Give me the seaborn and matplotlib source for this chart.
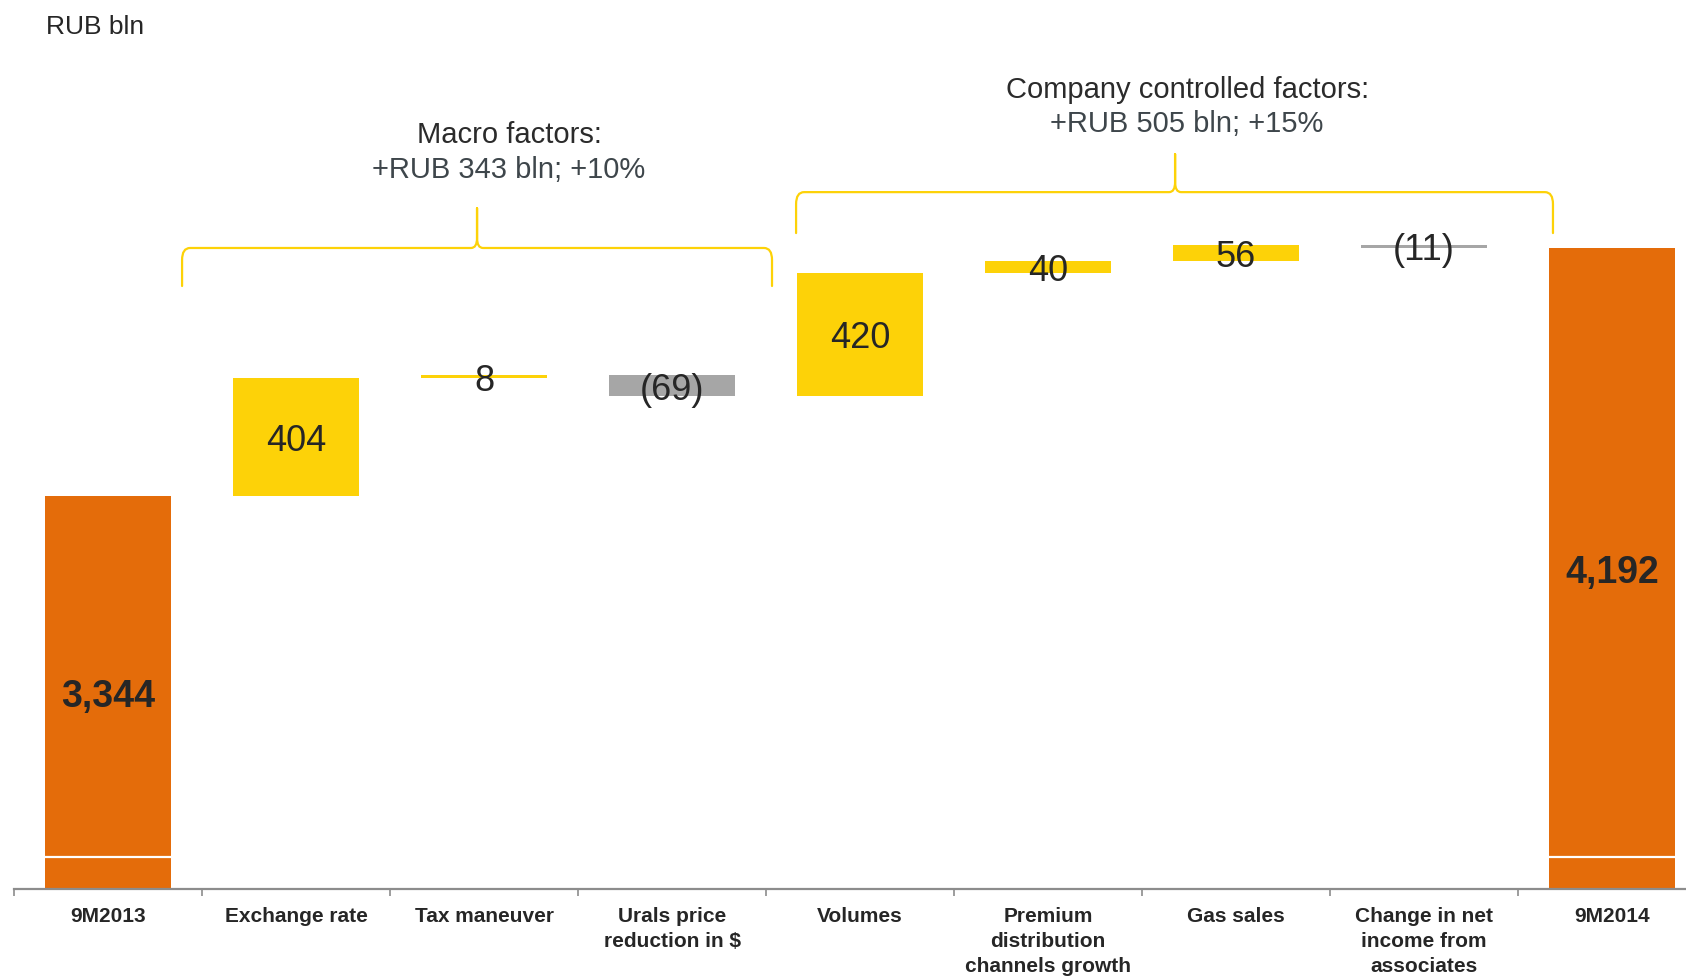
import numpy as np
import matplotlib
matplotlib.use("Agg")
import matplotlib.pyplot as plt
from matplotlib.path import Path
from matplotlib.patches import PathPatch
from matplotlib import transforms
import seaborn as sns

# ---------------- data ----------------
categories = ["9M2013", "Exchange rate", "Tax maneuver", "Urals price\nreduction in $",
              "Volumes", "Premium\ndistribution\nchannels growth", "Gas sales",
              "Change in net\nincome from\nassociates", "9M2014"]
values = [3344, 404, 8, -69, 420, 40, 56, -11, 4192]
kinds = ["total", "up", "up", "down", "up", "up", "up", "down", "total"]
value_labels = ["3,344", "404", "8", "(69)", "420", "40", "56", "(11)", "4,192"]

group_titles = ["Macro factors:", "Company controlled factors:"]
group_subtitles = ["+RUB 343 bln; +10%", "+RUB 505 bln; +15%"]
unit_label = "RUB bln"

# ---------------- styling / layout ----------------
COLORS = {"total": "#E46C0A", "up": "#FDD208", "down": "#A6A6A6"}
TEXT = "#262626"
AXIS_GREY = "#8C8C8C"
Y_MIN, Y_MAX = 2000, 5040
AXIS_BREAK = 2109
BAR_WIDTH = 0.665

# brace layout (data units): x_start, x_peak, x_end, y_tip, y_line, y_peak
braces = [(0.394, 1.963, 3.532, 4062, 4192, 4328),
          (3.660, 5.676, 7.686, 4243, 4383, 4513)]
group_text_x = [2.133, 5.74]
group_title_y = [4578, 4733]
group_sub_y = [4458, 4617]

# ---------------- derived waterfall geometry ----------------
bottoms, heights = [], []
running = 0
for v, k in zip(values, kinds):
    if k == "total":
        bottoms.append(0)
        heights.append(v)
        running = v
    else:
        lo = min(running, running + v)
        bottoms.append(lo)
        heights.append(abs(v))
        running += v
bottoms = np.array(bottoms, dtype=float)
heights = np.array(heights, dtype=float)

# ---------------- figure ----------------
sns.set_theme(style="white")
plt.rcParams["font.family"] = ["Liberation Sans", "DejaVu Sans"]

fig = plt.figure(figsize=(16.86, 9.76), dpi=100)
ax = fig.add_axes([14 / 1686, 87 / 976, 1692 / 1686, 889 / 976])

sns.barplot(x=categories, y=heights, bottom=bottoms, color=COLORS["total"],
            width=BAR_WIDTH, errorbar=None, linewidth=0, ax=ax)
for patch, k in zip(ax.patches, kinds):
    patch.set_facecolor(COLORS[k])
    patch.set_edgecolor("none")

ax.set_xlim(-0.5, len(categories) - 0.5)
ax.set_ylim(Y_MIN, Y_MAX)

# axis break marks on total bars
for i, k in enumerate(kinds):
    if k == "total":
        ax.hlines(AXIS_BREAK, i - BAR_WIDTH / 2, i + BAR_WIDTH / 2, color="white", lw=1.6, zorder=3)

# value labels (nudged a few pixels down like the original)
lab_tr = transforms.offset_copy(ax.transData, fig=fig, x=0, y=-4.5, units="dots")
for i, (b, h, lab, k) in enumerate(zip(bottoms, heights, value_labels, kinds)):
    lo = max(b, Y_MIN)
    mid = (lo + b + h) / 2
    if k == "total":
        ax.text(i, mid, lab, ha="center", va="center", fontsize=27, fontweight="bold",
                color=TEXT, zorder=4, transform=lab_tr)
    else:
        ax.text(i, mid, lab, ha="center", va="center", fontsize=26, color=TEXT,
                zorder=4, transform=lab_tr)

# spines & ticks
for s in ["top", "right", "left"]:
    ax.spines[s].set_visible(False)
ax.spines["bottom"].set_color(AXIS_GREY)
ax.spines["bottom"].set_linewidth(1.6)
ax.set_yticks([])
ax.set_xticks(range(len(categories)))
ax.set_xticklabels(categories)
ax.set_xticks(np.arange(-0.5, len(categories), 1.0), minor=True)
ax.tick_params(axis="x", which="major", length=0, pad=13, labelsize=15, labelcolor=TEXT)
ax.tick_params(axis="x", which="minor", length=5, width=1.2, color=AXIS_GREY, direction="out", bottom=True)
for t in ax.get_xticklabels():
    t.set_fontweight("bold")
    t.set_linespacing(1.4)
ax.set_xlabel("")
ax.set_ylabel("")

# braces
pos = ax.get_position()
ax_w_px = fig.get_figwidth() * fig.dpi * pos.width
ax_h_px = fig.get_figheight() * fig.dpi * pos.height
xu = (ax.get_xlim()[1] - ax.get_xlim()[0]) / ax_w_px
yu = (Y_MAX - Y_MIN) / ax_h_px
rx, ry = 8 * xu, 12 * yu
cx, cy = 6 * xu, 10 * yu
for x0, xm, x1, yt, yh, yp in braces:
    verts = [(x0, yt), (x0, yh - ry), (x0, yh), (x0 + rx, yh),
             (xm - cx, yh), (xm, yh), (xm, yh + cy), (xm, yp),
             (xm, yh + cy), (xm, yh), (xm + cx, yh),
             (x1 - rx, yh), (x1, yh), (x1, yh - ry), (x1, yt)]
    codes = [Path.MOVETO, Path.LINETO, Path.CURVE3, Path.CURVE3,
             Path.LINETO, Path.CURVE3, Path.CURVE3, Path.LINETO,
             Path.LINETO, Path.CURVE3, Path.CURVE3,
             Path.LINETO, Path.CURVE3, Path.CURVE3, Path.LINETO]
    ax.add_patch(PathPatch(Path(verts, codes), fill=False, edgecolor=COLORS["up"],
                           lw=1.6, capstyle="round", joinstyle="round", clip_on=False))

for x, t, s, yt, ys in zip(group_text_x, group_titles, group_subtitles, group_title_y, group_sub_y):
    ax.text(x, yt, t, ha="center", va="center", fontsize=21, color="#2B2B2B")
    ax.text(x, ys, s, ha="center", va="center", fontsize=21, color="#3E464B")

fig.text(46 / 1686, 1 - 27 / 976, unit_label, ha="left", va="center", fontsize=19, color=TEXT)

fig.savefig("out.png", dpi=100)
